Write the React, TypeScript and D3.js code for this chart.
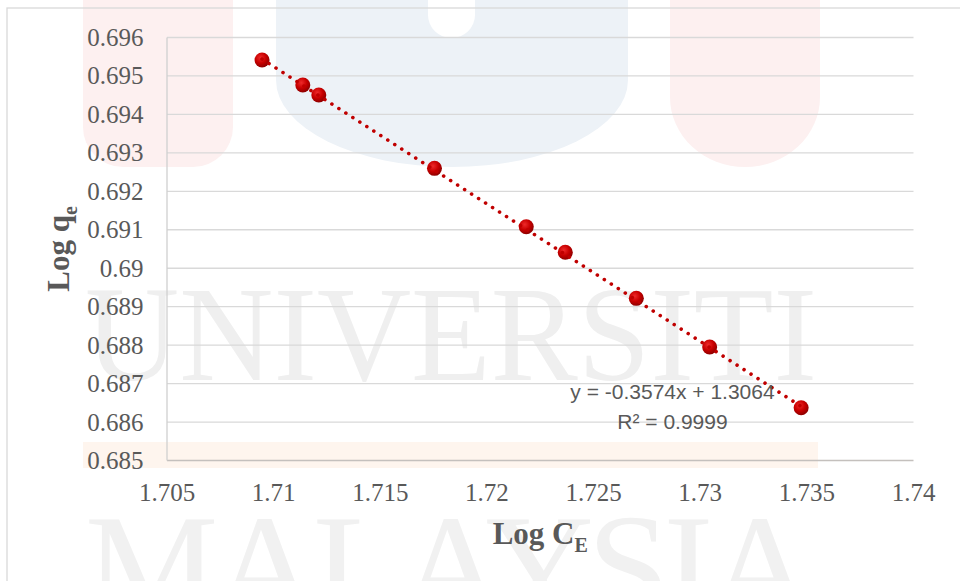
import React from "react";
import * as d3 from "d3";

const logCe = [1.709457, 1.711367, 1.712117, 1.717541, 1.721844, 1.723673, 1.727004, 1.730443, 1.734732];
const logQe = [0.695415, 0.694765, 0.694505, 0.692598, 0.691079, 0.690414, 0.689217, 0.687951, 0.686372];
const yTicks = [0.685, 0.686, 0.687, 0.688, 0.689, 0.69, 0.691, 0.692, 0.693, 0.694, 0.695, 0.696];
const yTickLabels = ["0.685", "0.686", "0.687", "0.688", "0.689", "0.69", "0.691", "0.692", "0.693", "0.694", "0.695", "0.696"];
const xTicks = [1.705, 1.71, 1.715, 1.72, 1.725, 1.73, 1.735, 1.74];
const xTickLabels = ["1.705", "1.71", "1.715", "1.72", "1.725", "1.73", "1.735", "1.74"];
const trendSlope = -0.3574;
const trendIntercept = 1.3064;
const equationText = "y = -0.3574x + 1.3064";
const r2Text = "R² = 0.9999";

const W = 960;
const H = 581;
const plot = { left: 167, right: 913.5, top: 37.5, bottom: 460.5 };

export default function App() {
  const x = d3.scaleLinear().domain([1.705, 1.74]).range([plot.left, plot.right]);
  const y = d3.scaleLinear().domain([0.685, 0.696]).range([plot.bottom, plot.top]);
  const xMin = d3.min(logCe) as number;
  const xMax = d3.max(logCe) as number;
  const trendPts: [number, number][] = [xMin, xMax].map((v) => [v, trendSlope * v + trendIntercept]);
  const line = d3
    .line<[number, number]>()
    .x((d) => x(d[0]))
    .y((d) => y(d[1]));

  const gray = "#595959";
  const serif = "'Liberation Serif', 'Times New Roman', serif";
  const sans = "'Liberation Sans', Arial, sans-serif";

  return (
    <svg width={W} height={H} style={{ position: "absolute", left: 0, top: 0, background: "#fff" }}>
      <defs>
        <radialGradient id="mk" cx="40%" cy="35%" r="65%">
          <stop offset="0%" stopColor="#ee2a2a" />
          <stop offset="55%" stopColor="#c80000" />
          <stop offset="100%" stopColor="#8e0000" />
        </radialGradient>
      </defs>
      {/* watermark */}
      <g>
        <path d="M83,-5 V127 A40 40 0 0 0 123 167 H193 A40 40 0 0 0 233 127 V-5 Z" fill="#fdf0f0" />
        <path d="M670,-5 V97 A75 70 0 0 0 820 97 V-5 Z" fill="#fdf0f0" />
        <path d="M276,-5 V80 A176 87 0 0 0 628 80 V-5 Z" fill="#edf2f7" />
        <path d="M428,-5 V15 A23.5 23 0 0 0 475 15 V-5 Z" fill="#ffffff" />
        <rect x={83} y={442} width={735} height={26} fill="#fef5ee" />
        <text x={85} y={380} fontFamily={serif} fontSize={136} fill="#efefef" textLength={732} lengthAdjust="spacingAndGlyphs">
          UNIVERSITI
        </text>
        <text x={85} y={618} fontFamily={serif} fontSize={150} fill="#f1f1f1" textLength={730} lengthAdjust="spacing">
          MALAYSIA
        </text>
      </g>
      {/* chart frame */}
      <rect x={7} y={8} width={W + 10} height={H + 10} fill="none" stroke="#d9d9d9" strokeWidth={1.3} />
      {/* gridlines */}
      {yTicks.map((t, i) => (
        <line
          key={"g" + i}
          x1={plot.left}
          x2={plot.right}
          y1={y(t)}
          y2={y(t)}
          stroke={i === 0 ? "#c4c0bd" : "#d9d9d9"}
          strokeWidth={1.3}
        />
      ))}
      <line x1={plot.left} x2={plot.left} y1={plot.top} y2={plot.bottom} stroke="#d0d0d0" strokeWidth={1.3} />
      {/* y tick labels */}
      {yTicks.map((t, i) => (
        <text key={"yl" + i} x={143.5} y={y(t)} dy="0.34em" textAnchor="end" fontFamily={serif} fontSize={25} fill={gray}>
          {yTickLabels[i]}
        </text>
      ))}
      {/* x tick labels */}
      {xTicks.map((t, i) => (
        <text key={"xl" + i} x={x(t)} y={501} textAnchor="middle" fontFamily={serif} fontSize={25} fill={gray}>
          {xTickLabels[i]}
        </text>
      ))}
      {/* markers */}
      {logCe.map((v, i) => (
        <circle key={"m" + i} cx={x(v)} cy={y(logQe[i])} r={7.5} fill="url(#mk)" />
      ))}
      {/* trendline */}
      <path
        d={line(trendPts) as string}
        fill="none"
        stroke="#c00000"
        strokeWidth={3.6}
        strokeLinecap="round"
        strokeDasharray="0.01 8.3"
      />
      {/* equation */}
      <text x={672.5} y={399} textAnchor="middle" fontFamily={sans} fontSize={21} fill={gray}>
        {equationText}
      </text>
      <text x={672.5} y={429} textAnchor="middle" fontFamily={sans} fontSize={21} fill={gray}>
        {r2Text}
      </text>
      {/* axis titles */}
      <text x={(plot.left + plot.right) / 2} y={544} textAnchor="middle" fontFamily={serif} fontWeight="bold" fontSize={31} fill={gray}>
        Log C
        <tspan fontSize={20} dy={8}>
          E
        </tspan>
      </text>
      <text
        transform={`translate(69, ${(plot.top + plot.bottom) / 2}) rotate(-90)`}
        textAnchor="middle"
        fontFamily={serif}
        fontWeight="bold"
        fontSize={31}
        fill={gray}
      >
        Log q
        <tspan fontSize={20} dy={8}>
          e
        </tspan>
      </text>
    </svg>
  );
}
